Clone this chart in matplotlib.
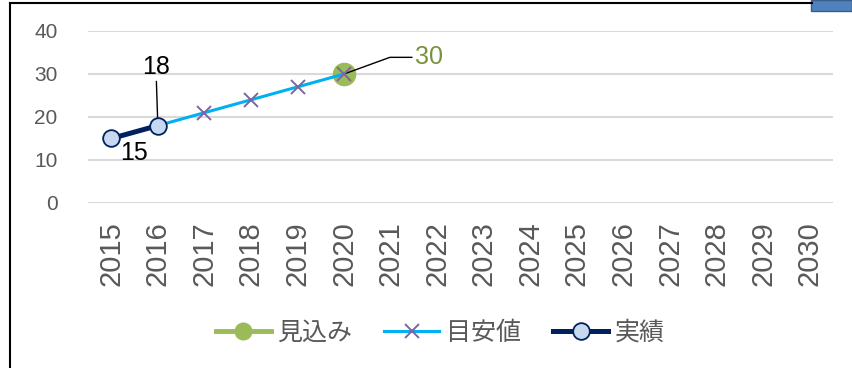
import matplotlib
matplotlib.use("Agg")
import matplotlib.pyplot as plt
from matplotlib.lines import Line2D
from matplotlib.patches import Rectangle

plt.rcParams['font.family'] = ['Liberation Sans', 'Noto Sans CJK JP', 'DejaVu Sans']

years = [str(y) for y in range(2015, 2031)]
jisseki_years = ['2015', '2016']
jisseki_vals = [15, 18]
meyasu_years = ['2016', '2017', '2018', '2019', '2020']
meyasu_vals = [18, 21, 24, 27, 30]
mikomi_years = ['2020']
mikomi_vals = [30]
yticks = [0, 10, 20, 30, 40]
legend_labels = ['見込み', '目安値', '実績']

GREEN = '#9BBB59'
CYAN = '#00B0F0'
PURPLE = '#8064A2'
NAVY = '#002060'
LIGHT = '#C6D9F1'
GRAY = '#595959'

fig = plt.figure(figsize=(8.52, 3.68), dpi=100)
ax = fig.add_axes([88/852, 1-203/368, (833-88)/852, (203-31)/368])

idx = {y: i for i, y in enumerate(years)}
xm = [idx[y] for y in mikomi_years]
xa = [idx[y] for y in meyasu_years]
xj = [idx[y] for y in jisseki_years]

ax.plot(xm, mikomi_vals, color=GREEN, lw=3, marker='o', ms=16,
        mfc=GREEN, mec=GREEN, zorder=3)
ax.plot(xa, meyasu_vals, color=CYAN, lw=2.2, marker='x', ms=9.5,
        mec=PURPLE, mew=1.4, zorder=4, markevery=list(range(1, len(xa))))
ax.plot(xj, jisseki_vals, color=NAVY, lw=3.6, marker='o', ms=12,
        mfc=LIGHT, mec=NAVY, mew=1.3, zorder=5)

ax.set_xlim(-0.5, len(years) - 0.5)
ax.set_ylim(0, 40)
ax.set_yticks(yticks)
ax.set_xticks(range(len(years)))
ax.set_xticklabels(years, rotation=90, fontsize=21, color=GRAY)
ax.tick_params(axis='x', length=0, pad=13)
ax.tick_params(axis='y', length=0, pad=22, labelsize=15, labelcolor=GRAY)
ax.grid(axis='y', color='#D9D9D9', lw=1.5)
ax.set_axisbelow(True)
for s in ax.spines.values():
    s.set_visible(False)

# data labels
ax.annotate(str(jisseki_vals[1]), xy=(xj[1], jisseki_vals[1]), xytext=(-1.4, 42.5),
            textcoords='offset points', ha='center', va='center', fontsize=18,
            color='black',
            arrowprops=dict(arrowstyle='-', color='black', lw=1, shrinkA=0, shrinkB=4))
ax.annotate(str(jisseki_vals[0]), xy=(xj[0], jisseki_vals[0]), xytext=(16.6, -10.8),
            textcoords='offset points', ha='center', va='center', fontsize=18,
            color='black')
ax.annotate(str(mikomi_vals[0]), xy=(xm[0], mikomi_vals[0]), xytext=(61, 12),
            textcoords='offset points', ha='center', va='center', fontsize=18,
            color='#77933C',
            arrowprops=dict(arrowstyle='-', color='black', lw=1, shrinkA=0, shrinkB=0,
                            connectionstyle='angle,angleA=0,angleB=20,rad=0'))

handles = [
    Line2D([], [], color=GREEN, lw=3.5, marker='o', ms=12, mfc=GREEN, mec=GREEN),
    Line2D([], [], color=CYAN, lw=2.2, marker='x', ms=9.5, mec=PURPLE, mew=1.4),
    Line2D([], [], color=NAVY, lw=3.6, marker='o', ms=12, mfc=LIGHT, mec=NAVY, mew=1.3),
]
leg = fig.legend(handles, legend_labels, loc='center', bbox_to_anchor=(440/852, 1-333/368),
                 ncol=3, frameon=False, fontsize=18, handlelength=2.2, handletextpad=0.25,
                 columnspacing=1.3)
for t in leg.get_texts():
    t.set_color(GRAY)

# outer frame fragments
fig.add_artist(Line2D([10/852, 10/852], [0, 1-3/368], color='black', lw=1.5,
                      transform=fig.transFigure))
fig.add_artist(Line2D([10/852, 812/852], [1-3/368, 1-3/368], color='black', lw=1.5,
                      transform=fig.transFigure))
fig.add_artist(Rectangle((811/852, 1-11/368), 41/852, 11/368, facecolor='#4F81BD',
                         edgecolor='#385D8A', lw=1, transform=fig.transFigure))

fig.savefig('out.png', dpi=100)
